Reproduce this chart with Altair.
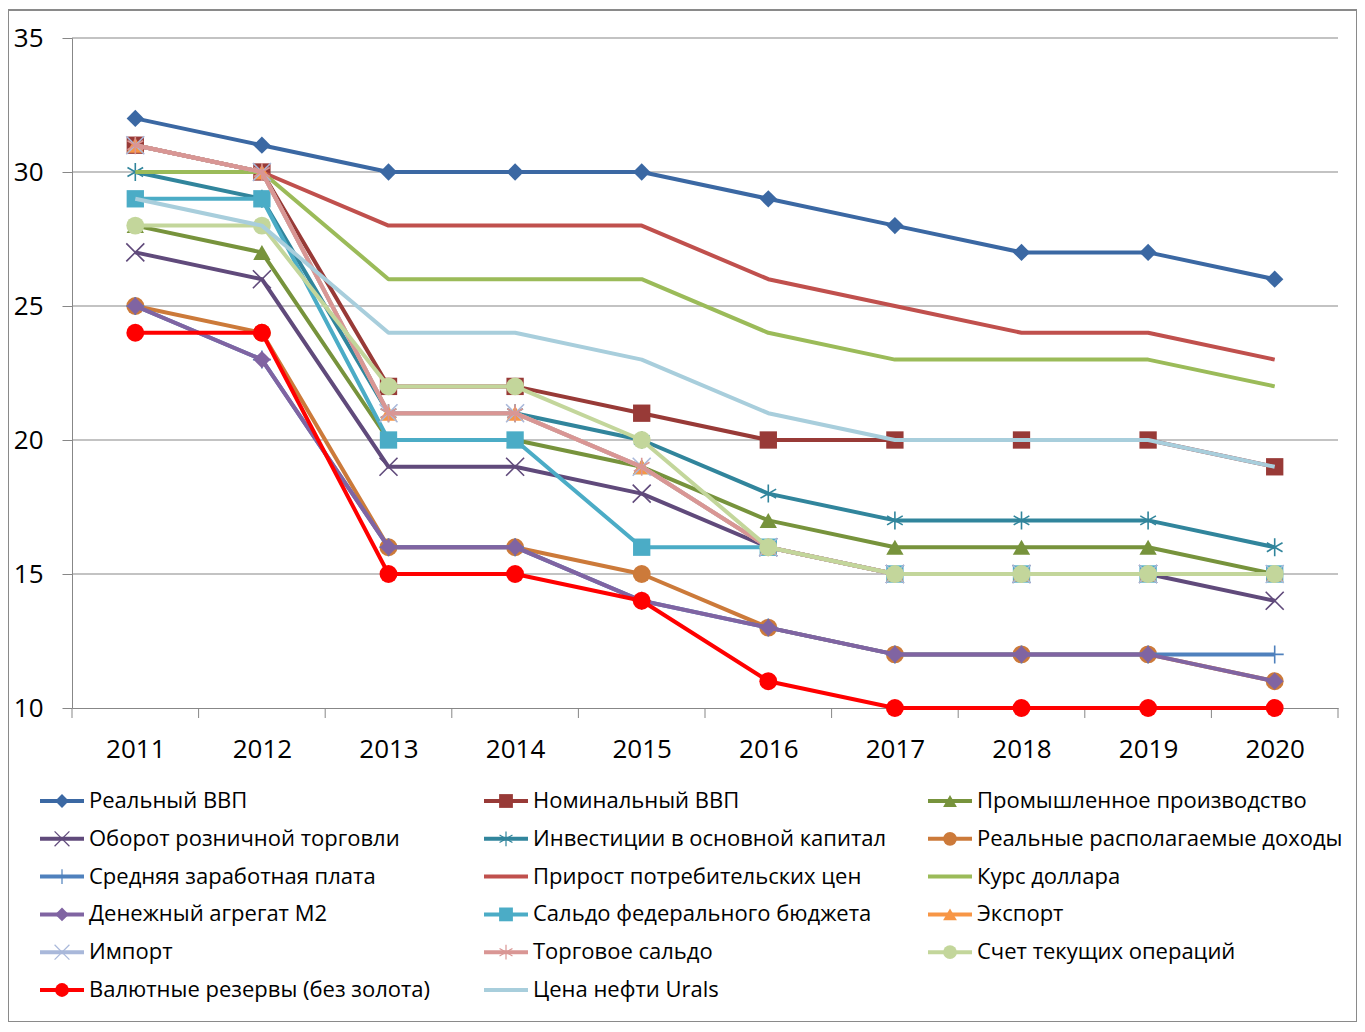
import altair as alt
import pandas as pd

# ---------------- data ----------------
years = [2011, 2012, 2013, 2014, 2015, 2016, 2017, 2018, 2019, 2020]

real_gdp      = [32, 31, 30, 30, 30, 29, 28, 27, 27, 26]
nominal_gdp   = [31, 30, 22, 22, 21, 20, 20, 20, 20, 19]
industrial    = [28, 27, 20, 20, 19, 17, 16, 16, 16, 15]
retail        = [27, 26, 19, 19, 18, 16, 15, 15, 15, 14]
investment    = [30, 29, 21, 21, 20, 18, 17, 17, 17, 16]
real_income   = [25, 24, 16, 16, 15, 13, 12, 12, 12, 11]
wages         = [25, 23, 16, 16, 14, 13, 12, 12, 12, 12]
cpi           = [31, 30, 28, 28, 28, 26, 25, 24, 24, 23]
usd_rate      = [30, 30, 26, 26, 26, 24, 23, 23, 23, 22]
money_m2      = [25, 23, 16, 16, 14, 13, 12, 12, 12, 11]
budget        = [29, 29, 20, 20, 16, 16, 15, 15, 15, 15]
export        = [31, 30, 21, 21, 19, 16, 15, 15, 15, 15]
imports       = [31, 30, 21, 21, 19, 16, 15, 15, 15, 15]
trade_balance = [31, 30, 21, 21, 19, 16, 15, 15, 15, 15]
current_acc   = [28, 28, 22, 22, 20, 16, 15, 15, 15, 15]
reserves      = [24, 24, 15, 15, 14, 11, 10, 10, 10, 10]
urals         = [29, 28, 24, 24, 23, 21, 20, 20, 20, 19]

names = [
    "Реальный ВВП", "Номинальный ВВП", "Промышленное производство",
    "Оборот розничной торговли", "Инвестиции в основной капитал", "Реальные располагаемые доходы",
    "Средняя заработная плата", "Прирост потребительских цен", "Курс доллара",
    "Денежный агрегат М2", "Сальдо федерального бюджета", "Экспорт",
    "Импорт", "Торговое сальдо", "Счет текущих операций",
    "Валютные резервы (без золота)", "Цена нефти Urals",
]
series_values = [
    real_gdp, nominal_gdp, industrial, retail, investment, real_income,
    wages, cpi, usd_rate, money_m2, budget, export,
    imports, trade_balance, current_acc, reserves, urals,
]
colors = [
    "#3B68A3", "#983A37", "#77933C", "#604A7B", "#31859C", "#CC7A3A",
    "#4F81BD", "#C0504D", "#9BBB59", "#8064A2", "#4BACC6", "#F79646",
    "#A9B8DA", "#D99694", "#C3D69B", "#FF0000", "#A8CEDC",
]
markers = [
    "diamond", "square", "triangle", "x", "star", "circle",
    "plus", "none", "none", "diamond", "square", "triangle",
    "x", "star", "circle", "circle", "none",
]
y_ticks = [10, 15, 20, 25, 30, 35]

# ---------------- styling ----------------
FONT = "Open Sans"
GRAY = "#878787"
W, H = 1349, 1012
xs = alt.Scale(domain=[years[0] - 0.5, years[-1] + 0.5], range=[64, 1330], nice=False, zero=False)
ys = alt.Scale(domain=[y_ticks[0], y_ticks[-1]], range=[698, 28], nice=False, zero=False)

PATHS = {
    "x": "M-1,-1L1,1M-1,1L1,-1",
    "star": "M-0.87,-0.5L0.87,0.5M-0.87,0.5L0.87,-0.5M0,-1L0,1",
    "plus": "M-1,0L1,0M0,-1L0,1",
}
FILLED = {"diamond": "diamond", "square": "square", "triangle": "triangle-up", "circle": "circle"}
SIZES = {"diamond": 300, "square": 300, "triangle-up": 300, "circle": 320}

layers = []

# gridlines + axes
grid_df = pd.DataFrame({"g": y_ticks[1:], "x0": years[0] - 0.5, "x1": years[-1] + 0.5})
layers.append(
    alt.Chart(grid_df).mark_rule(color=GRAY, strokeWidth=1).encode(
        x=alt.X("x0:Q", scale=xs, axis=alt.Axis(
            values=years, format="d", ticks=False, tickSize=0, grid=False, title=None,
            domainColor=GRAY, domainWidth=1, offset=-(H - 698),
            labelFont=FONT, labelFontSize=26, labelColor="black", labelPadding=28)),
        x2="x1:Q",
        y=alt.Y("g:Q", scale=ys, axis=alt.Axis(
            values=y_ticks, grid=False, title=None, tickSize=10, tickColor=GRAY,
            domainColor=GRAY, domainWidth=1, offset=-64,
            labelFont=FONT, labelFontSize=26, labelColor="black", labelPadding=19)),
    )
)

# category-boundary tick marks on the x axis
tick_df = pd.DataFrame({"b": [y - 0.5 for y in years] + [years[-1] + 0.5]})
layers.append(
    alt.Chart(tick_df).mark_rule(color=GRAY, strokeWidth=1).encode(
        x=alt.X("b:Q", scale=xs, axis=None),
        y=alt.value(698), y2=alt.value(708),
    )
)

# series, drawn one after another (line then markers)
for name, vals, col, mk in zip(names, series_values, colors, markers):
    df = pd.DataFrame({"year": years, "value": vals, "series": name})
    enc = dict(x=alt.X("year:Q", scale=xs, axis=None), y=alt.Y("value:Q", scale=ys, axis=None))
    layers.append(alt.Chart(df).mark_line(color=col, strokeWidth=4, strokeJoin="round").encode(**enc))
    if mk in FILLED:
        shp = FILLED[mk]
        layers.append(alt.Chart(df).mark_point(shape=shp, filled=True, size=SIZES[shp],
                                                color=col, opacity=1, strokeWidth=1).encode(**enc))
    elif mk in PATHS:
        layers.append(alt.Chart(df).mark_point(shape=PATHS[mk], filled=False, size=324,
                                                color=col, opacity=1, strokeWidth=1.6).encode(**enc))

# custom legend: 3 columns, row-major order
leg_rows = []
for i, (name, col, mk) in enumerate(zip(names, colors, markers)):
    c, r = i % 3, i // 3
    leg_rows.append({
        "name": name, "color": col, "row": r,
        "l0": c, "l1": c + 44 / 444, "lm": c + 22 / 444, "lt": c + 49 / 444,
        "mk": mk,
    })
leg = pd.DataFrame(leg_rows)
lxs = alt.Scale(domain=[0, 3], range=[32, 32 + 3 * 444], nice=False, zero=False)
lys = alt.Scale(domain=[0, 5], range=[791, 980], nice=False, zero=False)

layers.append(
    alt.Chart(leg).mark_rule(strokeWidth=4).encode(
        x=alt.X("l0:Q", scale=lxs, axis=None), x2="l1:Q",
        y=alt.Y("row:Q", scale=lys, axis=None),
        color=alt.Color("color:N", scale=None),
    )
)
for mk in ["diamond", "square", "triangle", "circle", "x", "star", "plus"]:
    sub = leg[leg["mk"] == mk]
    if sub.empty:
        continue
    if mk in FILLED:
        m = alt.Chart(sub).mark_point(shape=FILLED[mk], filled=True, size=190, opacity=1, strokeWidth=1)
    else:
        m = alt.Chart(sub).mark_point(shape=PATHS[mk], filled=False, size=220, opacity=1, strokeWidth=1.2)
    layers.append(m.encode(
        x=alt.X("lm:Q", scale=lxs, axis=None),
        y=alt.Y("row:Q", scale=lys, axis=None),
        color=alt.Color("color:N", scale=None),
    ))
layers.append(
    alt.Chart(leg).mark_text(align="left", baseline="middle", font=FONT, fontSize=22, color="black").encode(
        x=alt.X("lt:Q", scale=lxs, axis=None),
        y=alt.Y("row:Q", scale=lys, axis=None),
        text="name:N",
    )
)

chart = (
    alt.layer(*layers)
    .resolve_scale(x="independent", y="independent")
    .properties(width=W, height=H, padding={"left": 0, "top": 2, "right": 0, "bottom": 0},
                autosize=alt.AutoSizeParams(type="none"), background="white")
    .configure_view(stroke="#8A8A8A", strokeWidth=2)
)

chart.save("out.html", embed_options={"renderer": "svg", "actions": False})
